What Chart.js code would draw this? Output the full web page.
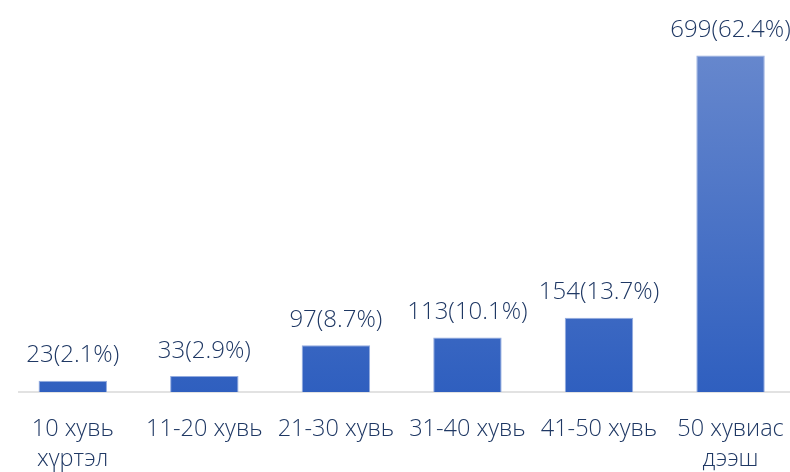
<!DOCTYPE html>
<html>
<head>
<meta charset="utf-8">
<script src="https://cdn.jsdelivr.net/npm/chart.js@4.4.0/dist/chart.umd.min.js"></script>
<style>
  html, body { margin: 0; padding: 0; background: #fff; overflow: hidden; }
  #wrap { width: 806px; height: 476px; }
</style>
</head>
<body>
<div id="wrap"><canvas id="myChart" width="806" height="476"></canvas></div>
<script>
// data
var categories = [['10 хувь', 'хүртэл'], '11-20 хувь', '21-30 хувь', '31-40 хувь', '41-50 хувь', ['50 хувиас', 'дээш']];
var counts = [23, 33, 97, 113, 154, 699];
var percents = [2.1, 2.9, 8.7, 10.1, 13.7, 62.4];

var textColor = '#1f3864';
var fontFamily = '"Open Sans", "Noto Sans", sans-serif';

// gradient fill per bar + baseline
var barStyle = {
    id: 'barStyle',
    beforeDatasetsDraw: function(chart) {
        var ctx = chart.ctx;
        var area = chart.chartArea;
        ctx.save();
        ctx.strokeStyle = '#d9d9d9';
        ctx.lineWidth = 1.5;
        ctx.beginPath();
        ctx.moveTo(18, area.bottom);
        ctx.lineTo(chart.width, area.bottom);
        ctx.stroke();
        ctx.restore();
        chart.getDatasetMeta(0).data.forEach(function(bar) {
            var g = ctx.createLinearGradient(0, bar.y, 0, bar.base);
            g.addColorStop(0, '#6687cd');
            g.addColorStop(1, '#2f5fbf');
            bar.options.backgroundColor = g;
        });
    }
};

// value labels above bars
var valueLabels = {
    id: 'valueLabels',
    afterDatasetsDraw: function(chart) {
        var ctx = chart.ctx;
        ctx.save();
        ctx.fillStyle = textColor;
        ctx.font = '300 24px ' + fontFamily;
        ctx.textAlign = 'center';
        ctx.textBaseline = 'alphabetic';
        chart.getDatasetMeta(0).data.forEach(function(bar, i) {
            ctx.fillText(counts[i] + '(' + percents[i] + '%)', bar.x, bar.y - 18.5);
        });
        ctx.restore();
    }
};

var ctx = document.getElementById('myChart').getContext('2d');
var myChart = new Chart(ctx, {
    type: 'bar',
    data: {
        labels: categories,
        datasets: [{
            label: 'Тоо',
            data: counts,
            backgroundColor: '#4472c4',
            borderColor: 'rgba(120,150,215,0.8)',
            borderWidth: 1,
            barPercentage: 0.52,
            categoryPercentage: 1
        }]
    },
    options: {
        responsive: false,
        animation: false,
        layout: {
            padding: { left: 7, right: 3, top: 7, bottom: -21 }
        },
        plugins: {
            legend: { display: false },
            tooltip: { enabled: false }
        },
        scales: {
            x: {
                grid: { display: false, drawTicks: false },
                border: { display: false },
                ticks: {
                    color: textColor,
                    font: { family: fontFamily, size: 23.5, weight: '300', lineHeight: 1.3 },
                    padding: 22,
                    maxRotation: 0,
                    autoSkip: false
                }
            },
            y: {
                display: false,
                min: 0,
                max: 800
            }
        }
    },
    plugins: [barStyle, valueLabels]
});
</script>
</body>
</html>
